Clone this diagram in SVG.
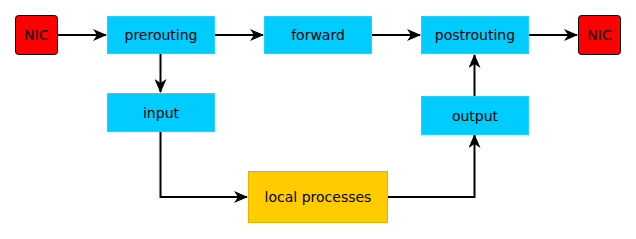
<svg xmlns="http://www.w3.org/2000/svg" width="636" height="239" viewBox="0 0 636 239">
<style>
.nic{fill:#ff0000;stroke:#000;stroke-width:1}
.hook{fill:#00ccff;stroke:#22d3ff;stroke-width:1}
.proc{fill:#ffcc00;stroke:#e0b400;stroke-width:1}
text{font-family:"DejaVu Sans",sans-serif;font-size:14px;fill:#000;text-anchor:middle;dominant-baseline:central}
.edge{fill:none;stroke:#000;stroke-width:2}
</style>
<defs>
<marker id="arr" markerUnits="userSpaceOnUse" markerWidth="16" markerHeight="12" refX="13" refY="6" orient="auto">
<path d="M0,0 L14,6 L0,12 L4,6 z" fill="#000"/>
</marker>
</defs>
<g id="connectors">
<path class="edge" d="M58,35 H106" marker-end="url(#arr)"/>
<path class="edge" d="M214,35 H263" marker-end="url(#arr)"/>
<path class="edge" d="M372,35 H420" marker-end="url(#arr)"/>
<path class="edge" d="M529,35 H577" marker-end="url(#arr)"/>
<path class="edge" d="M160.5,54 V92" marker-end="url(#arr)"/>
<path class="edge" d="M160.5,132 V197 H247" marker-end="url(#arr)"/>
<path class="edge" d="M388,197 H474.5 V135" marker-end="url(#arr)"/>
<path class="edge" d="M474.5,96 V55" marker-end="url(#arr)"/>
</g>
<g id="nic-in"><rect class="nic" x="15.5" y="15.5" width="42" height="39" rx="3"/><text x="36.5" y="35">NIC</text></g>
<g id="prerouting"><rect class="hook" x="107.5" y="16.5" width="107" height="37"/><text x="161" y="35">prerouting</text></g>
<g id="forward"><rect class="hook" x="264.5" y="16.5" width="107" height="37"/><text x="318" y="35">forward</text></g>
<g id="postrouting"><rect class="hook" x="421.5" y="16.5" width="107" height="37"/><text x="475" y="35">postrouting</text></g>
<g id="nic-out"><rect class="nic" x="578.5" y="15.5" width="42" height="39" rx="3"/><text x="599.5" y="35">NIC</text></g>
<g id="input"><rect class="hook" x="107.5" y="93.5" width="107" height="38"/><text x="161" y="112.5">input</text></g>
<g id="output"><rect class="hook" x="421.5" y="96.5" width="107" height="38"/><text x="475" y="115.5">output</text></g>
<g id="local-processes"><rect class="proc" x="248.5" y="171.5" width="139" height="51"/><text x="318" y="197">local processes</text></g>
</svg>
